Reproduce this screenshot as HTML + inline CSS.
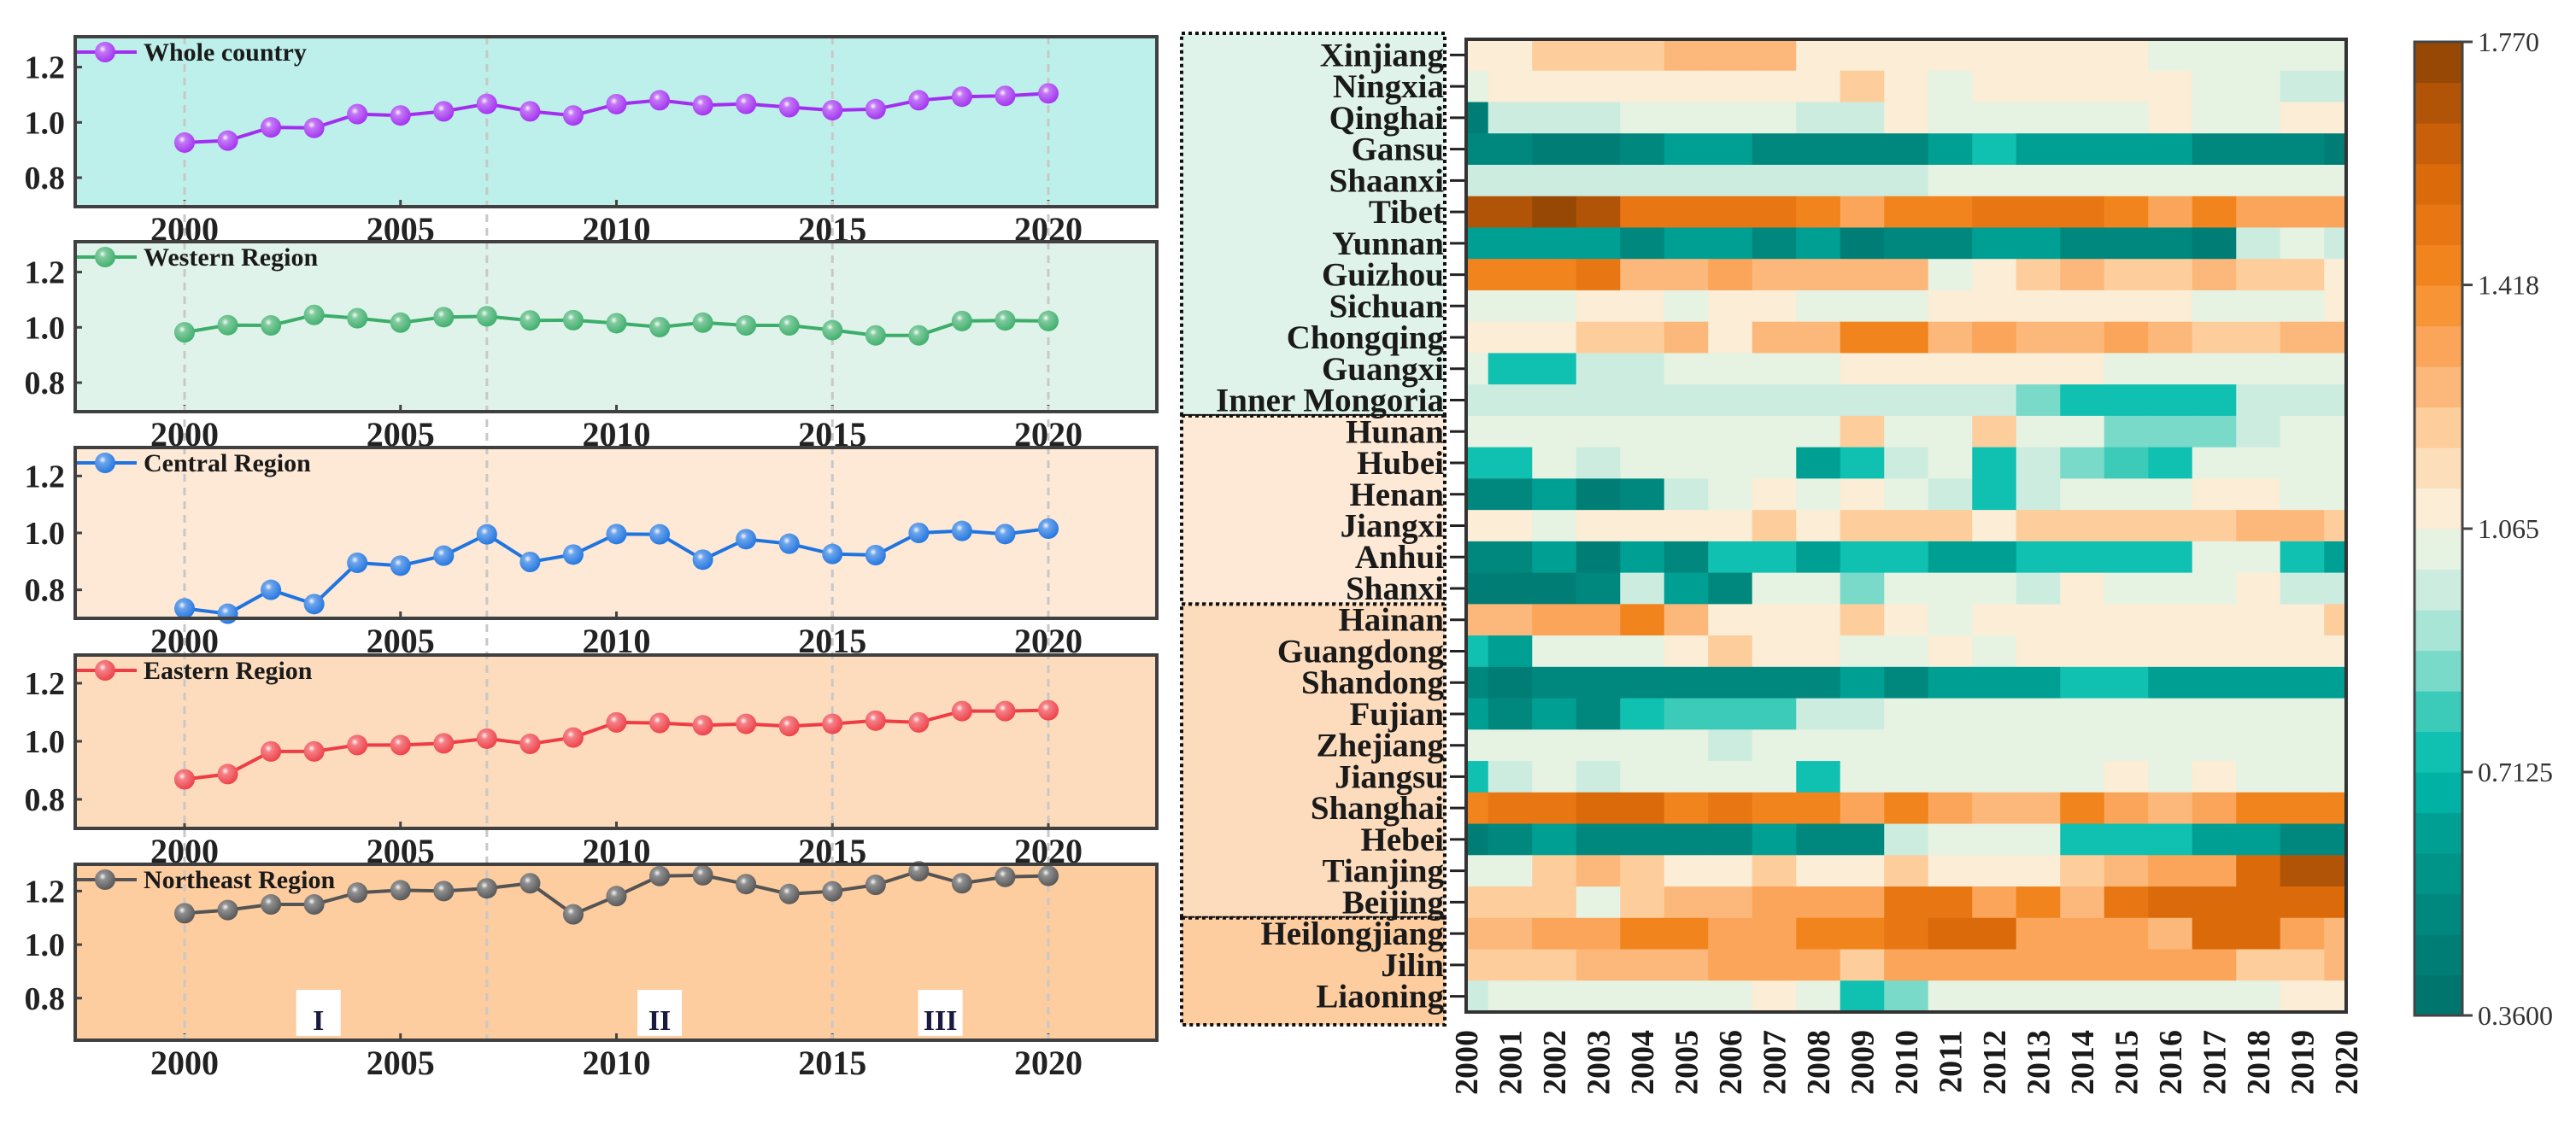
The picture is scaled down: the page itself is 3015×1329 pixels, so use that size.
<!DOCTYPE html>
<html><head><meta charset="utf-8"><title>Efficiency trends and provincial heatmap</title>
<style>
html,body{margin:0;padding:0;background:#fff;}
svg{display:block;font-family:"Liberation Serif",serif;}
</style></head>
<body>
<svg id="fig" width="3015" height="1329" viewBox="0 0 3015 1329" xmlns="http://www.w3.org/2000/svg">
<defs>
<radialGradient id="shine" cx="0.38" cy="0.35" r="0.7">
<stop offset="0" stop-color="#fff" stop-opacity="0.95"/>
<stop offset="0.25" stop-color="#fff" stop-opacity="0.35"/>
<stop offset="1" stop-color="#fff" stop-opacity="0"/>
</radialGradient>
</defs>
<g id="left"></g>
<g id="right"></g>
</svg>
<script>
// ---------- line chart data ----------
const years = [2000,2001,2002,2003,2004,2005,2006,2007,2008,2009,2010,2011,2012,2013,2014,2015,2016,2017,2018,2019,2020];
const seriesNames = ["Whole country","Western Region","Central Region","Eastern Region","Northeast Region"];
const wholeCountry = [0.927,0.934,0.982,0.980,1.030,1.025,1.040,1.067,1.040,1.025,1.066,1.080,1.062,1.067,1.055,1.044,1.048,1.080,1.093,1.096,1.105];
const westernRegion = [0.982,1.008,1.007,1.045,1.033,1.017,1.037,1.040,1.025,1.026,1.015,1.001,1.017,1.007,1.007,0.990,0.971,0.971,1.023,1.025,1.023];
const centralRegion = [0.735,0.716,0.800,0.750,0.895,0.885,0.920,0.995,0.898,0.924,0.996,0.995,0.906,0.978,0.962,0.926,0.922,1.000,1.007,0.996,1.015];
const easternRegion = [0.869,0.887,0.965,0.965,0.987,0.987,0.993,1.009,0.991,1.013,1.065,1.063,1.055,1.060,1.052,1.060,1.071,1.065,1.104,1.104,1.107];
const northeastRegion = [1.117,1.129,1.150,1.150,1.194,1.203,1.200,1.210,1.229,1.113,1.181,1.256,1.259,1.226,1.189,1.199,1.223,1.274,1.229,1.253,1.257];
const yTicks = [0.8,1.0,1.2];
const xTicks = [2000,2005,2010,2015,2020];
const periodLines = [2000,2007,2015,2020];
const periodLabels = ["I","II","III"];
const periodLabelYears = [2003.1,2011.0,2017.5];

// ---------- heatmap data ----------
const T0=0.45,T1=0.52,T2=0.60,T3=0.73,T4=0.78,T5=0.84,T6=0.97,N=1.03,C=1.10,O1=1.20,O2=1.27,O3=1.33,O4=1.43,O5=1.50,O6=1.58,O7=1.68,O8=1.74;
const provinces = ["Xinjiang","Ningxia","Qinghai","Gansu","Shaanxi","Tibet","Yunnan","Guizhou","Sichuan","Chongqing","Guangxi","Inner Mongoria","Hunan","Hubei","Henan","Jiangxi","Anhui","Shanxi","Hainan","Guangdong","Shandong","Fujian","Zhejiang","Jiangsu","Shanghai","Hebei","Tianjing","Beijing","Heilongjiang","Jilin","Liaoning"];
const hmYears = [2000,2001,2002,2003,2004,2005,2006,2007,2008,2009,2010,2011,2012,2013,2014,2015,2016,2017,2018,2019,2020];
const hmValues = [
[C,C,O1,O1,O1,O2,O2,O2,C,C,C,C,C,C,C,C,N,N,N,N,N],
[N,C,C,C,C,C,C,C,C,O1,C,N,C,C,C,C,C,N,N,T6,T6],
[T0,T6,T6,T6,N,N,N,N,T6,T6,C,N,N,N,N,N,C,N,N,C,C],
[T1,T1,T0,T0,T1,T2,T2,T1,T1,T1,T1,T2,T3,T2,T2,T2,T2,T1,T1,T1,T0],
[T6,T6,T6,T6,T6,T6,T6,T6,T6,T6,T6,N,N,N,N,N,N,N,N,N,N],
[O7,O7,O8,O7,O5,O5,O5,O5,O4,O3,O4,O4,O5,O5,O5,O4,O3,O4,O3,O3,O3],
[T2,T2,T2,T2,T1,T2,T2,T1,T2,T0,T1,T1,T2,T2,T1,T1,T1,T0,T6,N,T6],
[O4,O4,O4,O5,O2,O2,O3,O2,O2,O2,O2,N,C,O1,O2,O1,O1,O2,O1,O1,C],
[N,N,N,C,C,N,C,C,N,N,N,C,C,C,C,C,C,N,N,N,C],
[C,C,C,O1,O1,O2,C,O2,O2,O4,O4,O2,O3,O2,O2,O3,O2,O1,O1,O2,O2],
[N,T3,T3,T6,T6,N,N,N,N,C,C,C,C,C,C,N,N,N,N,N,N],
[T6,T6,T6,T6,T6,T6,T6,T6,T6,T6,T6,T6,T6,T5,T3,T3,T3,T3,T6,T6,T6],
[N,N,N,N,N,N,N,N,N,O1,N,N,O1,N,N,T5,T5,T5,T6,N,N],
[T3,T3,N,T6,N,N,N,N,T2,T3,T6,N,T3,T6,T5,T4,T3,N,N,N,N],
[T1,T1,T2,T0,T1,T6,N,C,N,C,N,T6,T3,T6,N,N,N,C,C,N,N],
[C,C,N,C,C,C,C,O1,C,O1,O1,O1,C,O1,O1,O1,O1,O1,O2,O2,O1],
[T1,T1,T2,T0,T2,T1,T3,T3,T2,T3,T3,T2,T2,T3,T3,T3,T3,N,N,T3,T2],
[T0,T0,T0,T1,T6,T2,T1,N,N,T5,N,N,N,T6,C,N,N,N,C,T6,T6],
[O2,O2,O3,O3,O4,O2,C,C,C,O1,C,N,C,C,C,C,C,C,C,C,O1],
[T3,T2,N,N,N,C,O1,C,C,N,N,C,N,C,C,C,C,C,C,C,C],
[T1,T0,T1,T1,T1,T1,T1,T1,T1,T2,T1,T2,T2,T2,T3,T3,T2,T2,T2,T2,T2],
[T2,T1,T2,T1,T3,T4,T4,T4,T6,T6,N,N,N,N,N,N,N,N,N,N,N],
[N,N,N,N,N,N,T6,N,N,N,N,N,N,N,N,N,N,N,N,N,N],
[T3,T6,N,T6,N,N,N,N,T3,N,N,N,N,N,N,C,N,C,N,N,N],
[O4,O5,O5,O6,O6,O4,O5,O4,O4,O3,O4,O3,O2,O2,O4,O3,O2,O3,O4,O4,O4],
[T0,T1,T2,T1,T1,T1,T1,T2,T1,T1,T6,N,N,N,T3,T3,T3,T2,T2,T1,T1],
[N,N,O1,O2,O1,C,C,O1,C,C,O1,C,C,C,O1,O2,O3,O3,O6,O7,O7],
[O1,O1,O1,N,O1,O2,O2,O3,O3,O3,O5,O5,O3,O4,O2,O5,O6,O6,O6,O6,O6],
[O2,O2,O3,O3,O4,O4,O3,O3,O4,O4,O5,O6,O6,O3,O3,O3,O2,O6,O6,O3,O2],
[O1,O1,O1,O2,O2,O2,O3,O3,O3,O1,O3,O3,O3,O3,O3,O3,O3,O3,O1,O1,O2],
[T6,N,N,N,N,N,N,C,N,T3,T5,N,N,N,N,N,N,N,N,C,C]
];
const cbTicks = [0.36,0.7125,1.065,1.418,1.770];
const cbTickLabels = ["0.3600","0.7125","1.065","1.418","1.770"];
const regionNames = ["Western","Central","Eastern","Northeast"];
const regionRowCounts = [12,6,10,3];

// ---------- helpers ----------
const NS="http://www.w3.org/2000/svg";
function mk(tag, attrs, parent){const e=document.createElementNS(NS,tag);for(const k in attrs)e.setAttribute(k,attrs[k]);if(parent)parent.appendChild(e);return e;}
const left=document.getElementById('left'), right=document.getElementById('right');

// ---------- line panels ----------
const plotX0=88, plotX1=1354;
const xScale = y => 216 + (y-2000)*50.55;
const panels = [
 {top:43,h:199,ymin:0.695,ymax:1.31,bg:"#bef0eb",col:"#a22ff0",data:wholeCountry},
 {top:283,h:199,ymin:0.695,ymax:1.31,bg:"#dff3eb",col:"#3cae6a",data:westernRegion},
 {top:524,h:200,ymin:0.70,ymax:1.30,bg:"#fde9d5",col:"#1f74e0",data:centralRegion},
 {top:767,h:203,ymin:0.70,ymax:1.297,bg:"#fddcbd",col:"#ee3d45",data:easternRegion},
 {top:1012,h:206,ymin:0.643,ymax:1.30,bg:"#fdcda0",col:"#545454",data:northeastRegion}
];
panels.forEach((p,pi)=>{
  const g=mk('g',{},left);
  
  
  const yS = v => p.top + p.h - (v-p.ymin)/(p.ymax-p.ymin)*p.h;
  const bg=mk('rect',{x:plotX0,y:p.top,width:plotX1-plotX0,height:p.h,fill:p.bg},g);
  
  
  // y ticks
  yTicks.forEach(t=>{
    const yy=yS(t);
    mk('line',{x1:plotX0,x2:plotX0+8,y1:yy,y2:yy,stroke:'#444','stroke-width':3},g);
    const tl=mk('text',{x:76,y:yy+13,'text-anchor':'end','font-size':38,'font-weight':'bold',fill:'#222'},g);
    tl.textContent=t.toFixed(1);
    
    
  });
  xTicks.forEach(t=>{
    const xx=xScale(t);
    mk('line',{x1:xx,x2:xx,y1:p.top+p.h,y2:p.top+p.h-8,stroke:'#444','stroke-width':3},g);
    const tl=mk('text',{x:xx,y:p.top+p.h+40,'text-anchor':'middle','font-size':40,'font-weight':'bold',fill:'#222'},g);
    tl.textContent=t;
    
    
  });
  p.yS=yS;
});
// period dashed lines across all panels
periodLines.forEach(yr=>{
  const l=mk('line',{x1:xScale(yr),x2:xScale(yr),y1:43,y2:1218,stroke:'#c8c8c8','stroke-width':3,'stroke-dasharray':'9 7'},left);
  
  
});
panels.forEach((p,pi)=>{
  const g=mk('g',{},left);
  
  
  const pts=p.data.map((v,i)=>xScale(years[i])+','+p.yS(v)).join(' ');
  mk('polyline',{points:pts,fill:'none',stroke:p.col,'stroke-width':4},g);
  p.data.forEach((v,i)=>{
    const cx=xScale(years[i]), cy=p.yS(v);
    const c=mk('circle',{cx:cx,cy:cy,r:12,fill:p.col},g);
    
    
    mk('circle',{cx:cx,cy:cy,r:12,fill:'url(#shine)'},g);
  });
  // legend
  const lg=mk('g',{},left);
  
  
  const ly=p.top+18;
  mk('line',{x1:plotX0,x2:160,y1:ly,y2:ly,stroke:p.col,'stroke-width':4},lg);
  mk('circle',{cx:123,cy:ly,r:12,fill:p.col},lg);
  mk('circle',{cx:123,cy:ly,r:12,fill:'url(#shine)'},lg);
  const lt=mk('text',{x:168,y:ly+10,'font-size':30,'font-weight':'bold',fill:'#1a1a1a'},lg);
  lt.textContent=seriesNames[pi];
  // frame
  const fr=mk('rect',{x:plotX0,y:p.top,width:plotX1-plotX0,height:p.h,fill:'none',stroke:'#404040','stroke-width':4},left);
  
  
});
// period labels
const p5=panels[4];
periodLabels.forEach((lab,i)=>{
  const cx=xScale(periodLabelYears[i]);
  const g=mk('g',{},left);
  
  
  mk('rect',{x:cx-26,y:1159,width:52,height:54,fill:'#fff'},g);
  const t=mk('text',{x:cx,y:1206,'text-anchor':'middle','font-size':34,'font-weight':'bold',fill:'#1a1a40'},g);
  t.textContent=lab;
});

// ---------- heatmap ----------
const hmX0=1716, hmX1=2746, hmY0=46, nRows=provinces.length;
const rowH=(1185-46)/nRows;
const colStep=(hmX1-hmX0)/(hmYears.length-1);
const hx = yr => hmX0 + (yr-2000)*colStep;
const hy = r => hmY0 + r*rowH;
const cStops=[[0.36,"#00706a"],[0.50,"#00877d"],[0.62,"#009e93"],[0.72,"#00bcae"],[0.80,"#3ccbb9"],[0.88,"#8edfd0"],[0.96,"#c4ebdf"],[1.04,"#e8f2e2"],[1.10,"#fdedd5"],[1.20,"#fdd1a3"],[1.30,"#fbae6b"],[1.42,"#f68a22"],[1.55,"#e06d0b"],[1.65,"#c05a08"],[1.77,"#8a4204"]];
function hex2rgb(h){return [1,3,5].map(i=>parseInt(h.substr(i,2),16));}
function interp(v){
  if(v<=cStops[0][0])return cStops[0][1];
  for(let i=1;i<cStops.length;i++){
    if(v<=cStops[i][0]){const a=cStops[i-1],b=cStops[i];const t=(v-a[0])/(b[0]-a[0]);
      const ca=hex2rgb(a[1]),cb=hex2rgb(b[1]);return 'rgb('+ca.map((x,k)=>Math.round(x+(cb[k]-x)*t)).join(',')+')';}
  }
  return cStops[cStops.length-1][1];
}
const vmin=0.36,vmax=1.77,nLev=24,lev=(vmax-vmin)/nLev;
function qcolor(v){let k=Math.floor((v-vmin)/lev);k=Math.max(0,Math.min(nLev-1,k));return interp(vmin+(k+0.5)*lev);}

// region boxes
const regionBg=["#dff3eb","#fde9d5","#fddcbd","#fdcda0"];
let rStart=0;
regionNames.forEach((rn,i)=>{
  const y0 = i===0 ? 39 : hy(rStart);
  const y1 = i===regionNames.length-1 ? 1200 : hy(rStart+regionRowCounts[i]);
  const r=mk('rect',{x:1383,y:y0,width:308,height:y1-y0,fill:regionBg[i],stroke:'#111','stroke-width':4,'stroke-dasharray':'4 4'},right);
  
  
  rStart+=regionRowCounts[i];
});

const clip=mk('clipPath',{id:'hmclip'},right);
mk('rect',{x:hmX0,y:hmY0,width:hmX1-hmX0,height:nRows*rowH},clip);
const cells=mk('g',{'clip-path':'url(#hmclip)'},right);


hmValues.forEach((row,r)=>{
  row.forEach((v,c)=>{
    const x=hx(hmYears[c])-colStep/2;
    const rc=mk('rect',{x:x,y:hy(r),width:colStep+0.6,height:rowH+0.6,fill:qcolor(v)},cells);
    
    
  });
});
const hf=mk('rect',{x:hmX0,y:hmY0,width:hmX1-hmX0,height:nRows*rowH,fill:'none',stroke:'#333','stroke-width':4},right);


provinces.forEach((pn,r)=>{
  const cy=hy(r)+rowH/2;
  mk('line',{x1:1697,x2:1714,y1:cy,y2:cy,stroke:'#222','stroke-width':3},right);
  const t=mk('text',{x:1690,y:cy+13,'text-anchor':'end','font-size':39,'font-weight':'bold',fill:'#1a1a1a'},right);
  t.textContent=pn;
  
  
});
hmYears.forEach(yr=>{
  const x=hx(yr);
  const t=mk('text',{x:0,y:0,transform:'translate('+(x+13)+',1206) rotate(-90)','text-anchor':'end','font-size':38,'font-weight':'bold',fill:'#1a1a1a'},right);
  t.textContent=yr;
  
  
});

// colorbar
const cbX=2826,cbW=56,cbTop=49,cbBot=1189;
const cbY = v => cbBot - (v-vmin)/(vmax-vmin)*(cbBot-cbTop);
const cb=mk('g',{},right);


for(let k=0;k<nLev;k++){
  const a=vmin+k*lev;
  mk('rect',{x:cbX,y:cbY(a+lev),width:cbW,height:cbY(a)-cbY(a+lev)+0.6,fill:interp(a+lev/2)},cb);
}
mk('rect',{x:cbX,y:cbTop,width:cbW,height:cbBot-cbTop,fill:'none',stroke:'#444','stroke-width':3},cb);
cbTicks.forEach((t,i)=>{
  const yy=cbY(t);
  mk('line',{x1:cbX+cbW,x2:cbX+cbW+12,y1:yy,y2:yy,stroke:'#444','stroke-width':3},cb);
  const tl=mk('text',{x:cbX+cbW+18,y:yy+11,'font-size':32,fill:'#333',transform:'translate(0,0)'},cb);
  tl.textContent=cbTickLabels[i];
  
  
});
</script>
</body></html>
